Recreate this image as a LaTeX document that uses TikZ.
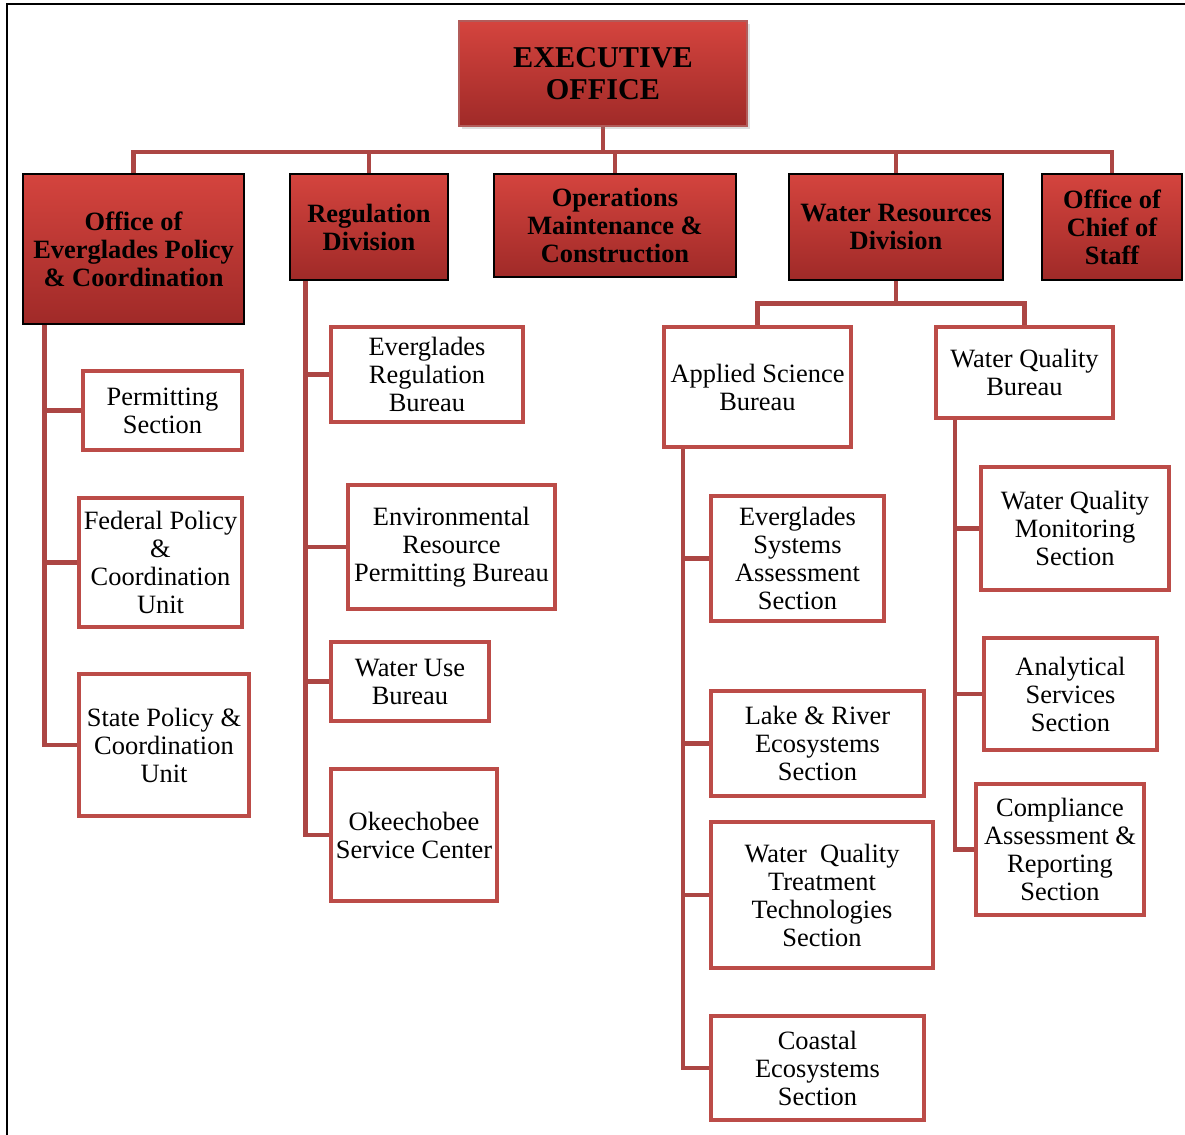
\documentclass[tikz,border=0pt]{standalone}
\usepackage{fontspec}
\setmainfont{Liberation Serif}
\usetikzlibrary{shadows,backgrounds}
\definecolor{linkred}{RGB}{172,70,68}
\definecolor{boxred}{RGB}{188,76,72}
\definecolor{topred}{RGB}{212,68,62}
\definecolor{botred}{RGB}{160,42,40}
\definecolor{execline}{RGB}{178,92,90}

\begin{document}
\begin{tikzpicture}[x=0.025cm, y=-0.025cm,
	head/.style 2 args={draw=black, line width=2pt, top color=topred, bottom color=botred,
		minimum width=#1*0.025cm, minimum height=#2*0.025cm, align=center, inner sep=1pt,
		font=\fontsize{18.8}{19.9}\selectfont\bfseries},
	leaf/.style 2 args={draw=boxred, line width=2.8pt, fill=white,
		minimum width=#1*0.025cm, minimum height=#2*0.025cm, align=center, inner sep=1pt,
		font=\fontsize{18.8}{19.9}\selectfont},
	link/.style={draw=linkred, line width=3pt}]
	\useasboundingbox (0,0) rectangle (1185,1135);
	
	% Frame
	\draw[line width=1.6pt] (7,1135) -- (7,4) -- (1185,4);
	
	% Executive office
	\node[head={288}{105}, draw=execline, line width=1.2pt,
		drop shadow={opacity=0.25, shadow xshift=2pt, shadow yshift=-2pt},
		font=\fontsize{21.5}{22.8}\selectfont\bfseries] (exec) at (603,73.5) {EXECUTIVE\\OFFICE};
	
	% Divisions
	\node[head={221}{150}] (oep) at (133.5,249) {Office of\\Everglades Policy\\\& Coordination};
	\node[head={158}{106}] (reg) at (369,227) {Regulation\\Division};
	\node[head={242}{103}] (omc) at (615,225.5) {Operations\\Maintenance \&\\Construction};
	\node[head={214}{106}] (wrd) at (896,227) {Water Resources\\Division};
	\node[head={140}{106}] (cos) at (1112,227) {Office of\\Chief of\\Staff};
	
	% Everglades policy units
	\node[leaf={159}{79}] (perm) at (162.5,410.5) {Permitting\\Section};
	\node[leaf={163}{129}] (fed) at (160.5,562.5) {Federal Policy\\\&\\Coordination\\Unit};
	\node[leaf={170}{142}] (state) at (164,745) {State Policy \&\\Coordination\\Unit};
	
	% Regulation bureaus
	\node[leaf={192}{95}] (evreg) at (427,374.5) {Everglades\\Regulation\\Bureau};
	\node[leaf={207}{124}] (erp) at (451.5,547) {Environmental\\Resource\\Permitting Bureau};
	\node[leaf={158}{79}] (wub) at (410,681.5) {Water Use\\Bureau};
	\node[leaf={166}{132}] (okee) at (414,835) {Okeechobee\\Service Center};
	
	% Water resources bureaus
	\node[leaf={187}{120}] (asb) at (757.5,387) {Applied Science\\Bureau};
	\node[leaf={177}{91}] (wqb) at (1024.5,372.5) {Water Quality\\Bureau};
	
	% Applied science sections
	\node[leaf={173}{125}] (esa) at (797.5,558.5) {Everglades\\Systems\\Assessment\\Section};
	\node[leaf={213}{105}] (lrs) at (817.5,743.5) {Lake \& River\\Ecosystems\\Section};
	\node[leaf={222}{146}] (wqtt) at (822,895) {Water~ Quality\\Treatment\\Technologies\\Section};
	\node[leaf={213}{104}] (coast) at (817.5,1068) {Coastal\\Ecosystems\\Section};
	
	% Water quality sections
	\node[leaf={188}{123}] (wqm) at (1075,528.5) {Water Quality\\Monitoring\\Section};
	\node[leaf={173}{112}] (anal) at (1070.5,694) {Analytical\\Services\\Section};
	\node[leaf={168}{131}] (comp) at (1060,849.5) {Compliance\\Assessment \&\\Reporting\\Section};
	
	% Connectors
	\begin{scope}[on background layer]
		\draw[link] (exec.south) -- ++(0,25) coordinate (topbar);
		\foreach \n in {oep,reg,omc,wrd,cos}
			\draw[link] (\n.north) |- (topbar);
		
		\draw[link] (wrd.south) -- ++(0,22) coordinate (wbar);
		\foreach \n in {asb,wqb}
			\draw[link] (wbar) -| (\n.north);
		
		\path (oep.south west) ++(23,0) coordinate (s1);
		\foreach \n in {perm,fed,state}
			\draw[link] (s1) |- (\n.west);
		
		\path (reg.south west) ++(17,0) coordinate (s2);
		\foreach \n in {evreg,erp,wub,okee}
			\draw[link] (s2) |- (\n.west);
		
		\path (asb.south west) ++(21,0) coordinate (s3);
		\foreach \n in {esa,lrs,wqtt,coast}
			\draw[link] (s3) |- (\n.west);
		
		\path (wqb.south west) ++(21,0) coordinate (s4);
		\foreach \n in {wqm,anal,comp}
			\draw[link] (s4) |- (\n.west);
	\end{scope}
\end{tikzpicture}
\end{document}
